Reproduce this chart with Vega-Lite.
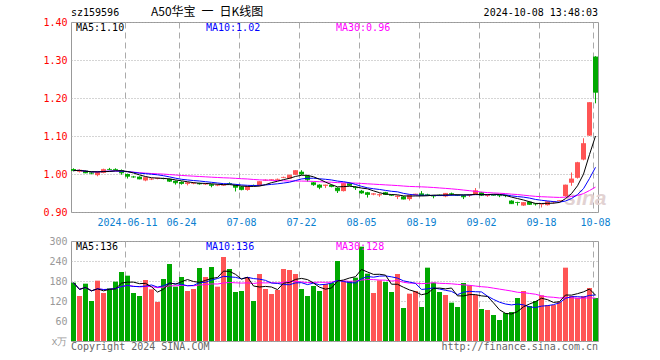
{
"$schema": "https://vega.github.io/schema/vega-lite/v6.json",
"background": "white",
"padding": {"left": 42, "top": 5, "right": 0, "bottom": 0},
"bounds": "flush",
"spacing": 29,
"data": {"values": [
{"d":"2024-05-28","o":1.013,"h":1.015,"l":1.007,"c":1.009,"v":175},
{"d":"2024-05-29","o":1.006,"h":1.012,"l":1.004,"c":1.010,"v":135},
{"d":"2024-05-30","o":1.009,"h":1.010,"l":1.002,"c":1.003,"v":172},
{"d":"2024-05-31","o":1.004,"h":1.006,"l":0.999,"c":1.002,"v":120},
{"d":"2024-06-03","o":0.997,"h":1.008,"l":0.994,"c":1.004,"v":181},
{"d":"2024-06-04","o":1.003,"h":1.014,"l":1.002,"c":1.012,"v":144},
{"d":"2024-06-05","o":1.013,"h":1.016,"l":1.010,"c":1.012,"v":158},
{"d":"2024-06-06","o":1.013,"h":1.015,"l":1.010,"c":1.012,"v":178},
{"d":"2024-06-07","o":1.010,"h":1.012,"l":0.998,"c":1.003,"v":207},
{"d":"2024-06-11","o":1.000,"h":1.001,"l":0.988,"c":0.994,"v":196},
{"d":"2024-06-12","o":0.993,"h":0.995,"l":0.990,"c":0.992,"v":144},
{"d":"2024-06-13","o":0.993,"h":0.994,"l":0.986,"c":0.987,"v":135},
{"d":"2024-06-14","o":0.983,"h":0.992,"l":0.981,"c":0.991,"v":183},
{"d":"2024-06-17","o":0.986,"h":0.989,"l":0.984,"c":0.987,"v":155},
{"d":"2024-06-18","o":0.988,"h":0.990,"l":0.986,"c":0.989,"v":117},
{"d":"2024-06-19","o":0.989,"h":0.990,"l":0.986,"c":0.988,"v":186},
{"d":"2024-06-20","o":0.987,"h":0.988,"l":0.979,"c":0.981,"v":231},
{"d":"2024-06-21","o":0.982,"h":0.983,"l":0.972,"c":0.977,"v":163},
{"d":"2024-06-24","o":0.979,"h":0.981,"l":0.972,"c":0.975,"v":192},
{"d":"2024-06-25","o":0.974,"h":0.979,"l":0.970,"c":0.977,"v":150},
{"d":"2024-06-26","o":0.975,"h":0.978,"l":0.973,"c":0.976,"v":156},
{"d":"2024-06-27","o":0.976,"h":0.977,"l":0.972,"c":0.974,"v":219},
{"d":"2024-06-28","o":0.973,"h":0.976,"l":0.971,"c":0.974,"v":192},
{"d":"2024-07-01","o":0.973,"h":0.974,"l":0.965,"c":0.970,"v":222},
{"d":"2024-07-02","o":0.970,"h":0.973,"l":0.968,"c":0.971,"v":163},
{"d":"2024-07-03","o":0.970,"h":0.973,"l":0.969,"c":0.971,"v":252},
{"d":"2024-07-04","o":0.976,"h":0.978,"l":0.973,"c":0.975,"v":216},
{"d":"2024-07-05","o":0.971,"h":0.972,"l":0.954,"c":0.965,"v":147},
{"d":"2024-07-08","o":0.967,"h":0.968,"l":0.957,"c":0.959,"v":150},
{"d":"2024-07-09","o":0.958,"h":0.968,"l":0.956,"c":0.967,"v":192},
{"d":"2024-07-10","o":0.971,"h":0.972,"l":0.968,"c":0.970,"v":120},
{"d":"2024-07-11","o":0.969,"h":0.981,"l":0.968,"c":0.980,"v":201},
{"d":"2024-07-12","o":0.983,"h":0.986,"l":0.982,"c":0.984,"v":156},
{"d":"2024-07-15","o":0.984,"h":0.986,"l":0.982,"c":0.985,"v":141},
{"d":"2024-07-16","o":0.985,"h":0.988,"l":0.984,"c":0.986,"v":153},
{"d":"2024-07-17","o":0.990,"h":0.993,"l":0.989,"c":0.991,"v":216},
{"d":"2024-07-18","o":0.988,"h":0.998,"l":0.987,"c":0.997,"v":213},
{"d":"2024-07-19","o":0.998,"h":1.010,"l":0.997,"c":1.009,"v":201},
{"d":"2024-07-22","o":1.006,"h":1.010,"l":0.997,"c":1.000,"v":156},
{"d":"2024-07-23","o":0.995,"h":0.997,"l":0.980,"c":0.985,"v":135},
{"d":"2024-07-24","o":0.978,"h":0.979,"l":0.969,"c":0.972,"v":165},
{"d":"2024-07-25","o":0.972,"h":0.973,"l":0.960,"c":0.965,"v":150},
{"d":"2024-07-26","o":0.969,"h":0.972,"l":0.963,"c":0.971,"v":171},
{"d":"2024-07-29","o":0.971,"h":0.972,"l":0.965,"c":0.967,"v":174},
{"d":"2024-07-30","o":0.964,"h":0.965,"l":0.950,"c":0.956,"v":240},
{"d":"2024-07-31","o":0.955,"h":0.977,"l":0.954,"c":0.975,"v":180},
{"d":"2024-08-01","o":0.976,"h":0.978,"l":0.969,"c":0.970,"v":180},
{"d":"2024-08-02","o":0.966,"h":0.968,"l":0.958,"c":0.964,"v":190},
{"d":"2024-08-05","o":0.956,"h":0.958,"l":0.948,"c":0.950,"v":283},
{"d":"2024-08-06","o":0.952,"h":0.953,"l":0.938,"c":0.946,"v":202},
{"d":"2024-08-07","o":0.946,"h":0.950,"l":0.944,"c":0.948,"v":144},
{"d":"2024-08-08","o":0.944,"h":0.949,"l":0.940,"c":0.946,"v":182},
{"d":"2024-08-09","o":0.952,"h":0.953,"l":0.945,"c":0.946,"v":177},
{"d":"2024-08-12","o":0.945,"h":0.946,"l":0.942,"c":0.944,"v":147},
{"d":"2024-08-13","o":0.940,"h":0.944,"l":0.934,"c":0.942,"v":201},
{"d":"2024-08-14","o":0.941,"h":0.942,"l":0.933,"c":0.934,"v":99},
{"d":"2024-08-15","o":0.934,"h":0.946,"l":0.930,"c":0.944,"v":142},
{"d":"2024-08-16","o":0.945,"h":0.948,"l":0.944,"c":0.947,"v":150},
{"d":"2024-08-19","o":0.949,"h":0.955,"l":0.943,"c":0.944,"v":102},
{"d":"2024-08-20","o":0.946,"h":0.948,"l":0.943,"c":0.945,"v":220},
{"d":"2024-08-21","o":0.943,"h":0.944,"l":0.936,"c":0.942,"v":175},
{"d":"2024-08-22","o":0.945,"h":0.946,"l":0.943,"c":0.944,"v":147},
{"d":"2024-08-23","o":0.941,"h":0.950,"l":0.939,"c":0.949,"v":138},
{"d":"2024-08-26","o":0.949,"h":0.951,"l":0.943,"c":0.948,"v":115},
{"d":"2024-08-27","o":0.945,"h":0.946,"l":0.942,"c":0.944,"v":102},
{"d":"2024-08-28","o":0.944,"h":0.945,"l":0.934,"c":0.940,"v":174},
{"d":"2024-08-29","o":0.944,"h":0.946,"l":0.940,"c":0.945,"v":167},
{"d":"2024-08-30","o":0.946,"h":0.963,"l":0.945,"c":0.956,"v":138},
{"d":"2024-09-02","o":0.952,"h":0.953,"l":0.942,"c":0.944,"v":96},
{"d":"2024-09-03","o":0.942,"h":0.946,"l":0.940,"c":0.944,"v":93},
{"d":"2024-09-04","o":0.945,"h":0.946,"l":0.943,"c":0.944,"v":78},
{"d":"2024-09-05","o":0.944,"h":0.945,"l":0.939,"c":0.943,"v":63},
{"d":"2024-09-06","o":0.944,"h":0.945,"l":0.939,"c":0.943,"v":84},
{"d":"2024-09-09","o":0.930,"h":0.931,"l":0.921,"c":0.922,"v":87},
{"d":"2024-09-10","o":0.926,"h":0.927,"l":0.917,"c":0.925,"v":129},
{"d":"2024-09-11","o":0.917,"h":0.926,"l":0.916,"c":0.925,"v":150},
{"d":"2024-09-12","o":0.927,"h":0.928,"l":0.919,"c":0.920,"v":105},
{"d":"2024-09-13","o":0.922,"h":0.923,"l":0.917,"c":0.921,"v":120},
{"d":"2024-09-18","o":0.920,"h":0.922,"l":0.912,"c":0.921,"v":137},
{"d":"2024-09-19","o":0.918,"h":0.928,"l":0.917,"c":0.927,"v":108},
{"d":"2024-09-20","o":0.926,"h":0.929,"l":0.922,"c":0.927,"v":108},
{"d":"2024-09-23","o":0.929,"h":0.931,"l":0.928,"c":0.930,"v":117},
{"d":"2024-09-24","o":0.942,"h":0.972,"l":0.940,"c":0.971,"v":220},
{"d":"2024-09-25","o":0.977,"h":1.004,"l":0.969,"c":0.987,"v":135},
{"d":"2024-09-26","o":0.990,"h":1.032,"l":0.988,"c":1.030,"v":130},
{"d":"2024-09-27","o":1.038,"h":1.094,"l":1.036,"c":1.080,"v":135},
{"d":"2024-09-30","o":1.101,"h":1.189,"l":1.100,"c":1.188,"v":159},
{"d":"2024-10-08","o":1.309,"h":1.310,"l":1.186,"c":1.215,"v":129}
]},
"transform": [
{"window": [{"op": "mean", "field": "c", "as": "ma5"}, {"op": "mean", "field": "v", "as": "vma5"}], "frame": [-4, 0], "sort": [{"field": "d"}]},
{"window": [{"op": "mean", "field": "c", "as": "ma10"}, {"op": "mean", "field": "v", "as": "vma10"}], "frame": [-9, 0], "sort": [{"field": "d"}]},
{"window": [{"op": "mean", "field": "c", "as": "ma30"}, {"op": "mean", "field": "v", "as": "vma30"}], "frame": [-29, 0], "sort": [{"field": "d"}]}
],
"vconcat": [
{
"width": 527, "height": 190,
"encoding": {"x": {"field": "d", "type": "ordinal", "title": null, "scale": {"paddingInner": 0.1667, "paddingOuter": 0},
  "axis": {"values": ["2024-06-11","2024-06-24","2024-07-08","2024-07-22","2024-08-05","2024-08-19","2024-09-02","2024-09-18","2024-10-08"],
   "labelExpr": "datum.value == '2024-06-11' ? datum.value : slice(datum.value, 5)",
   "bandPosition": 0.1, "labelAngle": 0, "labelColor": "#0a80d0", "labelPadding": 5, "labelOverlap": false, "grid": true, "gridDash": [6, 4], "gridColor": "#aaaaaa", "title": null}}},
"layer": [
{"data": {"values": [{}]}, "mark": {"type": "text", "text": "sina", "font": "Liberation Sans", "fontSize": 21, "fontWeight": "bold", "fontStyle": "italic", "color": "#e2d2d2", "align": "left", "baseline": "alphabetic", "dx": -1},
 "encoding": {"x": {"datum": "2024-09-24", "type": "ordinal"}, "y": {"datum": 0.918, "type": "quantitative"}}},
{"mark": {"type": "rule", "strokeWidth": 1},
 "encoding": {"y": {"field": "l", "type": "quantitative", "title": null, "scale": {"domain": [0.9, 1.4], "nice": false, "zero": false},
   "axis": {"values": [0.9, 1.0, 1.1, 1.2, 1.3, 1.4], "tickCount": 20, "format": ".2f", "labelColor": "#ff0000", "labelPadding": 4, "labelOverlap": false, "grid": true, "gridDash": [1, 2], "gridColor": "#aaaaaa", "title": null}},
  "y2": {"field": "h"},
  "color": {"condition": {"test": "datum.c >= datum.o", "value": "#ff5555"}, "value": "#00a800"}}},
{"mark": {"type": "bar"},
 "encoding": {"y": {"field": "o", "type": "quantitative", "title": null}, "y2": {"field": "c"},
  "color": {"condition": {"test": "datum.c >= datum.o", "value": "#ff5555"}, "value": "#00a800"}}},
{"mark": {"type": "tick", "thickness": 1, "size": 5},
 "encoding": {"y": {"field": "c", "type": "quantitative", "title": null},
  "color": {"condition": {"test": "datum.c >= datum.o", "value": "#ff5555"}, "value": "#00a800"}}},
{"mark": {"type": "line", "color": "#ff00ff", "strokeWidth": 1}, "encoding": {"y": {"field": "ma30", "type": "quantitative", "title": null}}},
{"mark": {"type": "line", "color": "#0000ff", "strokeWidth": 1}, "encoding": {"y": {"field": "ma10", "type": "quantitative", "title": null}}},
{"mark": {"type": "line", "color": "#000000", "strokeWidth": 1}, "encoding": {"y": {"field": "ma5", "type": "quantitative", "title": null}}},
{"data": {"values": [{}]}, "mark": {"type": "text", "text": "MA5:1.10", "color": "#000000", "align": "left", "baseline": "middle", "dx": 2.5, "dy": 6},
 "encoding": {"x": {"datum": "2024-05-28", "type": "ordinal"}, "y": {"datum": 1.4, "type": "quantitative"}}},
{"data": {"values": [{}]}, "mark": {"type": "text", "text": "MA10:1.02", "color": "#0000ff", "align": "left", "baseline": "middle", "dx": 0.5, "dy": 6},
 "encoding": {"x": {"datum": "2024-06-28", "type": "ordinal"}, "y": {"datum": 1.4, "type": "quantitative"}}},
{"data": {"values": [{}]}, "mark": {"type": "text", "text": "MA30:0.96", "color": "#ff00ff", "align": "left", "baseline": "middle", "dx": -1.5, "dy": 6},
 "encoding": {"x": {"datum": "2024-07-30", "type": "ordinal"}, "y": {"datum": 1.4, "type": "quantitative"}}},
{"data": {"values": [{}]}, "mark": {"type": "text", "text": "sz159596", "color": "#000000", "align": "left", "baseline": "middle", "dx": -2.5, "dy": -9},
 "encoding": {"x": {"datum": "2024-05-28", "type": "ordinal"}, "y": {"datum": 1.4, "type": "quantitative"}}},
{"data": {"values": [{}]}, "mark": {"type": "text", "text": "A50华宝\u2002一\u2002日K线图", "font": "Noto Sans CJK SC", "fontSize": 12, "color": "#000000", "align": "left", "baseline": "middle", "dx": -0.5, "dy": -10},
 "encoding": {"x": {"datum": "2024-06-17", "type": "ordinal"}, "y": {"datum": 1.4, "type": "quantitative"}}},
{"data": {"values": [{}]}, "mark": {"type": "text", "text": "2024-10-08 13:48:03", "color": "#000000", "align": "right", "baseline": "middle", "dx": 2.5, "dy": -9},
 "encoding": {"x": {"datum": "2024-10-08", "type": "ordinal"}, "y": {"datum": 1.4, "type": "quantitative"}}}
]
},
{
"width": 527, "height": 100,
"encoding": {"x": {"field": "d", "type": "ordinal", "title": null, "scale": {"paddingInner": 0.1667, "paddingOuter": 0},
  "axis": {"values": ["2024-06-11","2024-06-24","2024-07-08","2024-07-22","2024-08-05","2024-08-19","2024-09-02","2024-09-18","2024-10-08"],
   "bandPosition": 0.1, "labels": false, "grid": true, "gridDash": [6, 4], "gridColor": "#aaaaaa", "title": null}}},
"layer": [
{"mark": {"type": "bar"},
 "encoding": {"y": {"field": "v", "type": "quantitative", "title": null, "scale": {"domain": [0, 300], "nice": false},
   "axis": {"values": [0, 60, 120, 180, 240, 300], "tickCount": 20, "labelExpr": "datum.value == 0 ? 'x万' : datum.label", "labelColor": "#999999", "labelPadding": 4, "labelOverlap": false, "grid": true, "gridDash": [1, 2], "gridColor": "#aaaaaa", "title": null}},
  "color": {"condition": {"test": "datum.c >= datum.o", "value": "#ff5555"}, "value": "#00a800"}}},
{"mark": {"type": "line", "color": "#ff00ff", "strokeWidth": 1}, "encoding": {"y": {"field": "vma30", "type": "quantitative", "title": null}}},
{"mark": {"type": "line", "color": "#0000ff", "strokeWidth": 1}, "encoding": {"y": {"field": "vma10", "type": "quantitative", "title": null}}},
{"mark": {"type": "line", "color": "#000000", "strokeWidth": 1}, "encoding": {"y": {"field": "vma5", "type": "quantitative", "title": null}}},
{"data": {"values": [{}]}, "mark": {"type": "text", "text": "MA5:136", "color": "#000000", "align": "left", "baseline": "middle", "dx": 2.5, "dy": 6},
 "encoding": {"x": {"datum": "2024-05-28", "type": "ordinal"}, "y": {"datum": 300, "type": "quantitative"}}},
{"data": {"values": [{}]}, "mark": {"type": "text", "text": "MA10:136", "color": "#0000ff", "align": "left", "baseline": "middle", "dx": 0.5, "dy": 6},
 "encoding": {"x": {"datum": "2024-06-28", "type": "ordinal"}, "y": {"datum": 300, "type": "quantitative"}}},
{"data": {"values": [{}]}, "mark": {"type": "text", "text": "MA30:128", "color": "#ff00ff", "align": "left", "baseline": "middle", "dx": -1.5, "dy": 6},
 "encoding": {"x": {"datum": "2024-07-30", "type": "ordinal"}, "y": {"datum": 300, "type": "quantitative"}}},
{"data": {"values": [{}]}, "mark": {"type": "text", "text": "Copyright 2024 SINA.COM", "color": "#666666", "align": "left", "baseline": "middle", "dx": -2.5, "dy": 6},
 "encoding": {"x": {"datum": "2024-05-28", "type": "ordinal"}, "y": {"datum": 0, "type": "quantitative"}}},
{"data": {"values": [{}]}, "mark": {"type": "text", "text": "http://finance.sina.com.cn", "color": "#666666", "align": "right", "baseline": "middle", "dx": 2.5, "dy": 6},
 "encoding": {"x": {"datum": "2024-10-08", "type": "ordinal"}, "y": {"datum": 0, "type": "quantitative"}}}
]
}
],
"config": {
"view": {"stroke": "#999999", "strokeWidth": 1},
"axis": {"labelFont": "DejaVu Sans Mono", "labelFontSize": 10, "ticks": false, "domain": false, "labelFlush": false, "labelOverlap": false, "labelBound": false, "gridOpacity": 1},
"text": {"font": "DejaVu Sans Mono", "fontSize": 10}
}
}
